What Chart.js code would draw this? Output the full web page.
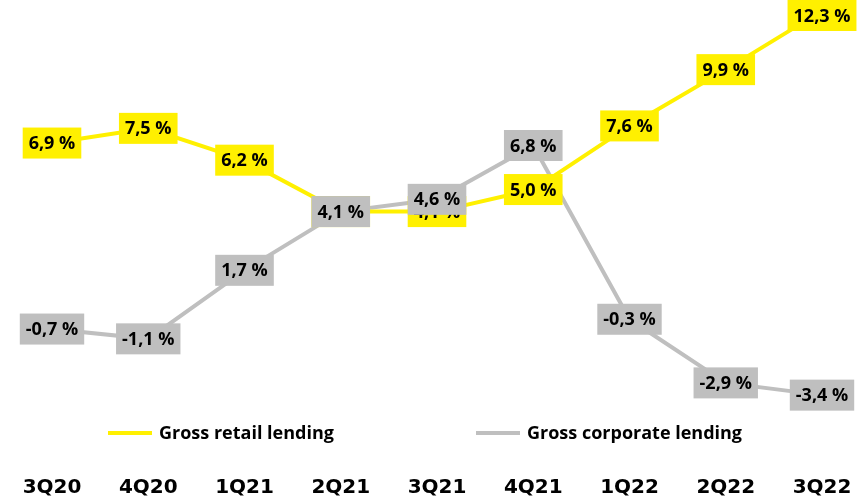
<!DOCTYPE html>
<html>
<head>
<meta charset="utf-8">
<title>Gross lending growth</title>
<script src="https://cdn.jsdelivr.net/npm/chart.js@4.4.0/dist/chart.umd.min.js"></script>
<style>
  html, body { margin: 0; padding: 0; background: #ffffff; }
  #wrap { width: 865px; height: 496px; }
</style>
</head>
<body>
<div id="wrap"><canvas id="chart" width="865" height="496"></canvas></div>
<script>
// Quarterly year-on-year growth of gross lending, %
const categories = ['3Q20', '4Q20', '1Q21', '2Q21', '3Q21', '4Q21', '1Q22', '2Q22', '3Q22'];
const retailValues = [6.9, 7.5, 6.2, 4.1, 4.1, 5.0, 7.6, 9.9, 12.3];
const corporateValues = [-0.7, -1.1, 1.7, 4.1, 4.6, 6.8, -0.3, -2.9, -3.4];
const seriesNames = ['Gross retail lending', 'Gross corporate lending'];

const YELLOW = '#FFF000';
const GREY = '#BFBFBF';
const LABEL_FONT = 'bold 18px "Open Sans", Lato, sans-serif';

function formatPct(v) {
  return v.toFixed(1).replace('.', ',') + ' %';
}

// Value boxes: filled rectangle in the series colour with the value on top
const valueBoxes = {
  id: 'valueBoxes',
  afterDatasetsDraw(chart) {
    const ctx = chart.ctx;
    const W = chart.width, H = chart.height;
    ctx.save();
    ctx.font = LABEL_FONT;
    ctx.textAlign = 'center';
    ctx.textBaseline = 'middle';
    chart.data.datasets.forEach((ds, i) => {
      const meta = chart.getDatasetMeta(i);
      meta.data.forEach((pt, j) => {
        const text = formatPct(ds.data[j]);
        const tw = ctx.measureText(text).width;
        const w = tw + 12, h = 31;
        const bx = Math.min(Math.max(pt.x - w / 2, 0), W - w);
        const by = Math.min(Math.max(pt.y - h / 2, 0), H - h);
        ctx.fillStyle = ds.borderColor;
        ctx.fillRect(bx, by, w, h);
        ctx.fillStyle = '#000000';
        ctx.fillText(text, bx + w / 2, by + h / 2 + 1);
      });
    });
    ctx.restore();
  }
};

// Legend placed between the plot and the category labels
const midLegend = {
  id: 'midLegend',
  afterDraw(chart, args, opts) {
    const ctx = chart.ctx;
    ctx.save();
    ctx.font = opts.font;
    ctx.textAlign = 'left';
    ctx.textBaseline = 'middle';
    chart.data.datasets.forEach((ds, i) => {
      const x0 = opts.starts[i];
      ctx.strokeStyle = ds.borderColor;
      ctx.lineWidth = 4;
      ctx.beginPath();
      ctx.moveTo(x0, opts.y);
      ctx.lineTo(x0 + opts.sample, opts.y);
      ctx.stroke();
      ctx.fillStyle = '#000000';
      ctx.fillText(ds.label, x0 + opts.sample + 7, opts.y + 1);
    });
    ctx.restore();
  }
};

new Chart(document.getElementById('chart'), {
  type: 'line',
  data: {
    labels: categories,
    datasets: [
      {
        label: seriesNames[0],
        data: retailValues,
        borderColor: YELLOW,
        backgroundColor: YELLOW,
        borderWidth: 4,
        pointRadius: 0,
        tension: 0
      },
      {
        label: seriesNames[1],
        data: corporateValues,
        borderColor: GREY,
        backgroundColor: GREY,
        borderWidth: 4,
        pointRadius: 0,
        tension: 0
      }
    ]
  },
  options: {
    responsive: false,
    animation: false,
    devicePixelRatio: 1,
    layout: { padding: { left: 52, right: 43, top: 6, bottom: -9 } },
    plugins: {
      legend: { display: false },
      tooltip: { enabled: false },
      midLegend: {
        y: 433,
        starts: [108, 476],
        sample: 44,
        font: 'bold 18px "Open Sans", Lato, sans-serif'
      }
    },
    scales: {
      x: {
        grid: { display: false, drawTicks: false },
        border: { display: false },
        ticks: {
          padding: 6,
          color: '#000000',
          maxRotation: 0,
          autoSkip: false,
          font: { family: '"DejaVu Sans", sans-serif', size: 20, weight: 'bold', lineHeight: 1.1 }
        }
      },
      y: {
        display: false,
        min: -6.5,
        max: 12.5
      }
    }
  },
  plugins: [valueBoxes, midLegend]
});
</script>
</body>
</html>
